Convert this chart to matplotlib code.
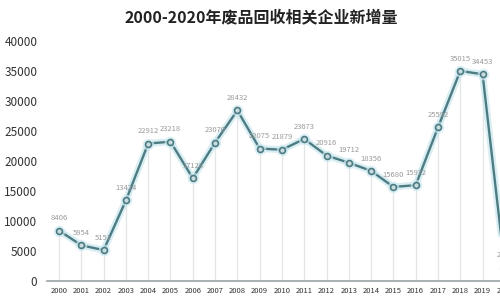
import matplotlib.pyplot as plt

plt.rcParams['font.family'] = ['Noto Sans CJK SC', 'DejaVu Sans']

years = list(range(2000, 2021))
counts = [8406, 5954, 5151, 13424, 22912, 23218, 17128, 23070, 28432, 22075,
          21879, 23673, 20916, 19712, 18356, 15680, 15972, 25592, 35015, 34453, 2200]
labels = ['8406', '5954', '5151', '13424', '22912', '23218', '17128', '23070', '28432', '22075',
          '21879', '23673', '20916', '19712', '18356', '15680', '15972', '25592', '35015', '34453', '2200']
yticks = [0, 5000, 10000, 15000, 20000, 25000, 30000, 35000, 40000]

line_col = '#4d7b82'

fig = plt.figure(figsize=(5, 3), dpi=100)
# axes runs past the right edge so 2020 gets cut off like the reference
ax = fig.add_axes([47 / 500, 19 / 300, 469 / 500, 252 / 300])
ax.set_xlim(1999.46, 2020.5)
ax.set_ylim(0, 42000)

# drop lines from the axis up to each point
ax.vlines(years, 0, counts, color='#e2e6e7', lw=0.9, zorder=1)

# soft glow under the line
ax.plot(years, counts, color='#bfe3ec', lw=5, alpha=0.6, solid_capstyle='round', zorder=2)
ax.plot(years, counts, color=line_col, lw=1.7, zorder=3)
ax.scatter(years, counts, s=70, color='#cfeaf2', alpha=0.7, zorder=3, linewidths=0)
ax.scatter(years, counts, s=18, facecolor='#c9dde0', edgecolor=line_col, linewidths=1.2, zorder=4)

for x, y, t in zip(years, counts, labels):
    ax.annotate(t, (x, y), xytext=(0, 6), textcoords='offset points', ha='center',
                va='bottom', fontsize=5.5, color='#9a9a9a', zorder=5)

ax.set_xticks(years)
ax.set_xticklabels([str(y) for y in years], fontsize=5.5, color='#333333')
ax.set_yticks(yticks)
ax.set_yticklabels([str(v) for v in yticks], fontsize=8.5, color='#333333')
ax.tick_params(axis='both', length=0)
ax.tick_params(axis='y', pad=7)
ax.tick_params(axis='x', pad=4)

for s in ['top', 'right', 'left']:
    ax.spines[s].set_visible(False)
ax.spines['bottom'].set_color('#9aa3a6')
ax.spines['bottom'].set_linewidth(1.2)

fig.text(0.522, 0.943, '2000-2020年废品回收相关企业新增量', ha='center', va='center',
         fontsize=11.5, fontweight='bold', color='#222222')

fig.savefig('out.png', dpi=100)
